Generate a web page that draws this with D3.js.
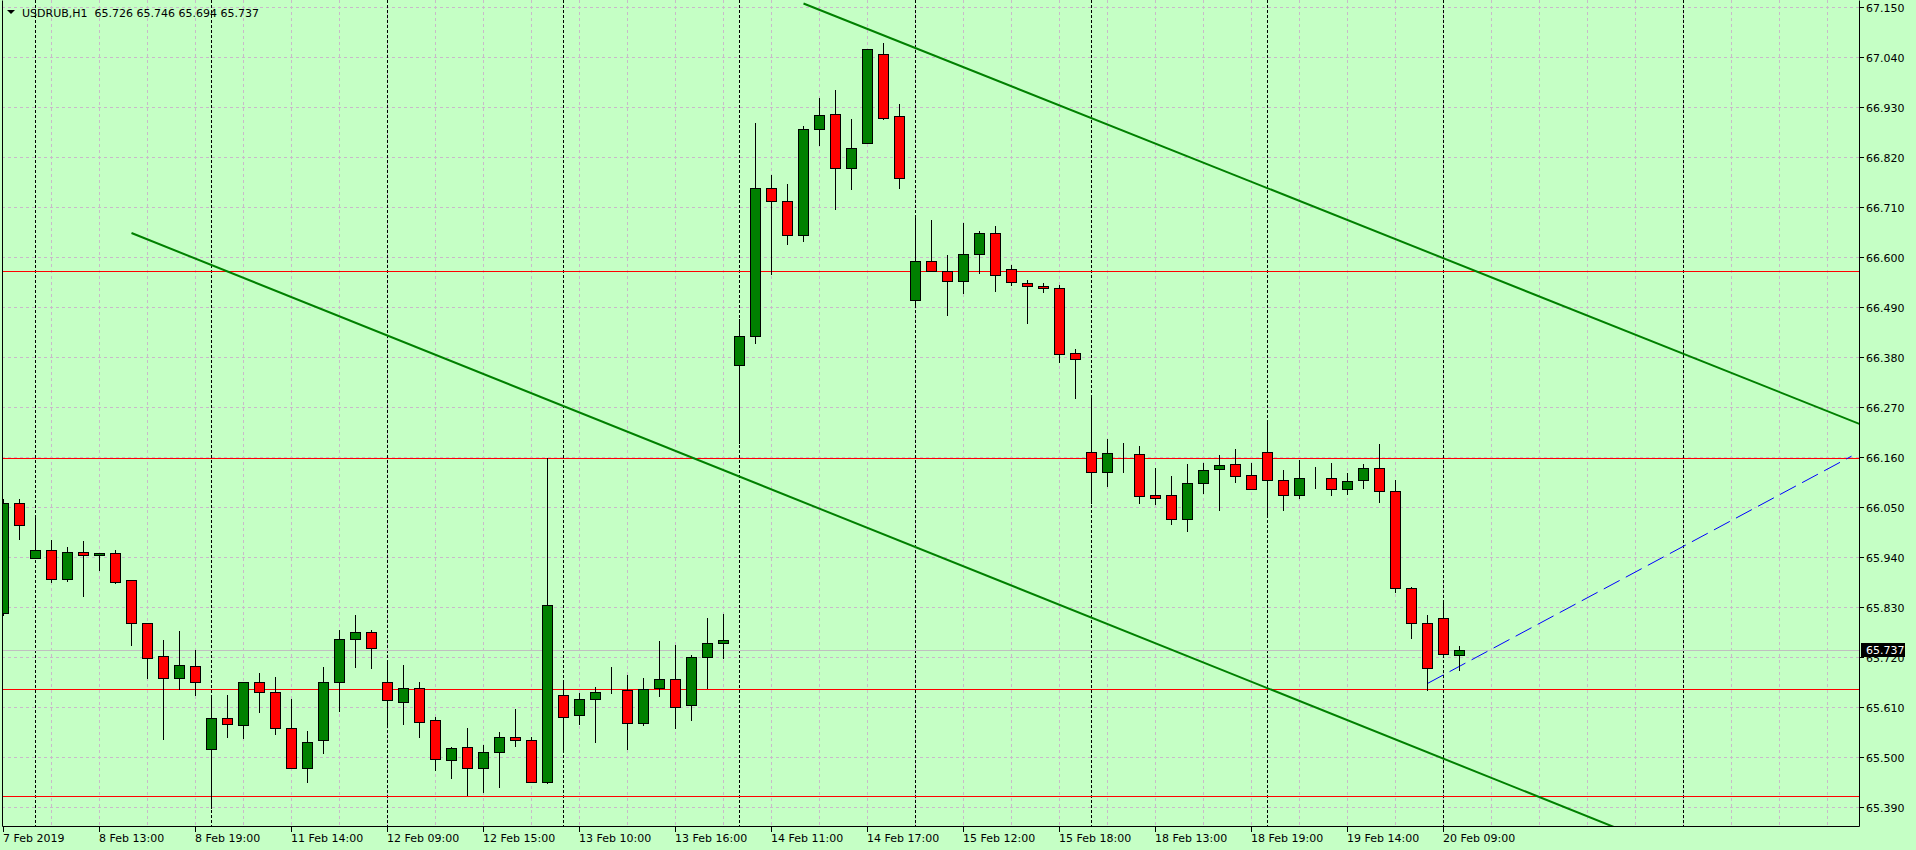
<!DOCTYPE html>
<html>
<head>
<meta charset="utf-8">
<script src="https://cdn.jsdelivr.net/npm/d3@7"></script>
<style>
  body { margin: 0; background: #c5ffc5; }
  svg { display: block; font-family: 'DejaVu Sans', sans-serif; font-size: 11px; }
</style>
</head>
<body>
<div id="chart"></div>
<script>
// header
const symbol = 'USDRUB,H1'
const lastQuote = ['65.726', '65.746', '65.694', '65.737']

// trading days shown, session 09:00 - 19:00
const days = ['7 Feb', '8 Feb', '11 Feb', '12 Feb', '13 Feb', '14 Feb', '15 Feb', '18 Feb', '19 Feb', '20 Feb']
const firstBarHour = 18
const lastBarHour = 10
const sessionOpen = 9
const sessionClose = 19

// OHLC, one value per hourly bar
const open = [
  65.820, 66.062, 65.941, 65.957, 65.894, 65.954, 65.946, 65.952, 65.891, 65.796,
  65.724, 65.677, 65.702, 65.519, 65.589, 65.572, 65.668, 65.646, 65.565, 65.477,
  65.539, 65.668, 65.761, 65.778, 65.668, 65.624, 65.653, 65.583, 65.495, 65.525,
  65.479, 65.514, 65.547, 65.539, 65.448, 65.638, 65.594, 65.629, 65.649, 65.649,
  65.578, 65.653, 65.673, 65.616, 65.723, 65.754, 66.364, 66.428, 66.755, 66.725,
  66.650, 66.883, 66.916, 66.799, 66.852, 67.048, 66.912, 66.507, 66.593, 66.571,
  66.549, 66.608, 66.654, 66.575, 66.545, 66.538, 66.534, 66.390, 66.174, 66.130,
  66.170, 66.168, 66.078, 66.078, 66.025, 66.106, 66.135, 66.146, 66.122, 66.174,
  66.111, 66.078, 66.119, 66.117, 66.091, 66.111, 66.139, 66.087, 65.873, 65.798,
  65.809, 65.726
]
const high = [
  66.069, 66.069, 66.032, 65.979, 65.964, 65.977, 65.950, 65.957, 65.891, 65.796,
  65.759, 65.779, 65.737, 65.631, 65.638, 65.668, 65.686, 65.678, 65.630, 65.559,
  65.700, 65.781, 65.814, 65.781, 65.710, 65.704, 65.668, 65.590, 65.525, 65.565,
  65.528, 65.558, 65.608, 65.547, 66.161, 65.671, 65.644, 65.657, 65.701, 65.682,
  65.677, 65.757, 65.748, 65.726, 65.807, 65.816, 66.465, 66.896, 66.782, 66.762,
  66.890, 66.953, 66.969, 66.905, 67.059, 67.074, 66.938, 66.687, 66.683, 66.606,
  66.676, 66.659, 66.670, 66.585, 66.552, 66.544, 66.540, 66.400, 66.296, 66.202,
  66.192, 66.186, 66.138, 66.120, 66.146, 66.148, 66.166, 66.179, 66.150, 66.243,
  66.133, 66.156, 66.141, 66.148, 66.126, 66.146, 66.190, 66.111, 65.877, 65.814,
  65.844, 65.746
]
const low = [
  65.815, 65.982, 65.940, 65.887, 65.890, 65.857, 65.913, 65.886, 65.748, 65.677,
  65.542, 65.652, 65.639, 65.389, 65.547, 65.545, 65.602, 65.552, 65.477, 65.448,
  65.512, 65.603, 65.701, 65.699, 65.572, 65.574, 65.547, 65.474, 65.456, 65.419,
  65.426, 65.437, 65.527, 65.447, 65.445, 65.517, 65.574, 65.536, 65.642, 65.520,
  65.572, 65.637, 65.567, 65.584, 65.655, 65.721, 66.192, 66.414, 66.564, 66.630,
  66.637, 66.849, 66.707, 66.751, 66.852, 66.905, 66.755, 66.498, 66.571, 66.474,
  66.524, 66.568, 66.527, 66.540, 66.458, 66.525, 66.372, 66.293, 66.062, 66.099,
  66.130, 66.062, 66.059, 66.015, 66.000, 66.084, 66.046, 66.108, 66.091, 66.031,
  66.046, 66.071, 66.093, 66.078, 66.080, 66.093, 66.064, 65.866, 65.764, 65.649,
  65.726, 65.694
]
const close = [
  66.060, 66.012, 65.957, 65.894, 65.954, 65.947, 65.950, 65.888, 65.796, 65.721,
  65.677, 65.704, 65.668, 65.589, 65.574, 65.668, 65.646, 65.565, 65.477, 65.536,
  65.668, 65.761, 65.778, 65.741, 65.627, 65.653, 65.580, 65.497, 65.523, 65.479,
  65.514, 65.547, 65.539, 65.448, 65.836, 65.591, 65.629, 65.646, 65.649, 65.578,
  65.651, 65.673, 65.613, 65.723, 65.754, 65.759, 66.428, 66.755, 66.725, 66.650,
  66.883, 66.914, 66.799, 66.843, 67.059, 66.909, 66.777, 66.593, 66.571, 66.549,
  66.608, 66.654, 66.562, 66.548, 66.538, 66.533, 66.388, 66.377, 66.130, 66.170,
  66.170, 66.076, 66.073, 66.025, 66.104, 66.133, 66.144, 66.120, 66.091, 66.111,
  66.078, 66.117, 66.119, 66.091, 66.109, 66.139, 66.087, 65.873, 65.796, 65.697,
  65.728, 65.737
]

// price axis labels
const priceTicks = [67.15, 67.04, 66.93, 66.82, 66.71, 66.60, 66.49, 66.38, 66.27,
  66.16, 66.05, 65.94, 65.83, 65.72, 65.61, 65.50, 65.39]

// drawn objects: [bar, price]
const levels = [66.571, 66.161, 65.651, 65.416]
const channelTop = [[50, 67.16], [116, 66.235]]
const channelBottom = [[8, 66.655], [85, 65.569]]
const blueLine = [[89, 65.664], [115.5, 66.164]]

const width = 1916
const height = 850
const plot = { left: 2, top: 0, right: 1859, bottom: 826 }
const bg = '#c5ffc5'

const svg = d3
  .select('#chart')
  .append('svg')
  .attr('width', width)
  .attr('height', height)

svg.append('rect').attr('width', width).attr('height', height).attr('fill', bg)

svg
  .append('clipPath')
  .attr('id', 'plot-clip')
  .append('rect')
  .attr('x', plot.left)
  .attr('y', plot.top)
  .attr('width', plot.right - plot.left)
  .attr('height', plot.bottom - plot.top)

// bar times
const times = []
days.forEach((day, i) => {
  const from = i === 0 ? firstBarHour : sessionOpen
  const to = i === days.length - 1 ? lastBarHour : sessionClose
  for (let h = from; h <= to; h++) {
    times.push({ day: day, hour: h, newDay: h === from })
  }
})

const candles = times.map((t, i) => ({
  i: i,
  o: open[i],
  h: high[i],
  l: low[i],
  c: close[i]
}))

// scales
const x = d3.scaleLinear().domain([0, 1]).range([3.5, 19.5])
const y = d3.scaleLinear().domain([65.39, 67.15]).range([808, 8])
const lastBar = (plot.right - x(0)) / (x(1) - x(0))
const py = v => Math.round(y(v)) + 0.5

const g = svg.append('g').attr('clip-path', 'url(#plot-clip)')

// grid
g.selectAll('.hgrid')
  .data(priceTicks)
  .enter()
  .append('line')
  .attr('class', 'hgrid')
  .attr('x1', plot.left)
  .attr('x2', plot.right)
  .attr('y1', d => py(d) - 1)
  .attr('y2', d => py(d) - 1)
  .attr('stroke', '#c9b9c9')
  .attr('stroke-dasharray', '3,3')

const vgrid = d3.range(3, Math.floor(lastBar) + 1, 3)
g.selectAll('.vgrid')
  .data(vgrid)
  .enter()
  .append('line')
  .attr('class', 'vgrid')
  .attr('x1', d => x(d))
  .attr('x2', d => x(d))
  .attr('y1', plot.top)
  .attr('y2', plot.bottom)
  .attr('stroke', '#c9b9c9')
  .attr('stroke-dasharray', '3,3')

// day separators (future one at midnight after the last bar)
const separators = times.map((t, i) => (t.newDay && i > 0 ? i : null)).filter(d => d !== null)
separators.push(times.length - 1 + (24 - lastBarHour))
g.selectAll('.sep')
  .data(separators)
  .enter()
  .append('line')
  .attr('class', 'sep')
  .attr('x1', d => x(d))
  .attr('x2', d => x(d))
  .attr('y1', plot.top)
  .attr('y2', plot.bottom)
  .attr('stroke', '#000')
  .attr('stroke-dasharray', '3,2')

// current price line
g.append('line')
  .attr('x1', plot.left)
  .attr('x2', plot.right)
  .attr('y1', py(close[close.length - 1]))
  .attr('y2', py(close[close.length - 1]))
  .attr('stroke', '#c0c0c0')

// horizontal levels
g.selectAll('.level')
  .data(levels)
  .enter()
  .append('line')
  .attr('class', 'level')
  .attr('x1', plot.left)
  .attr('x2', plot.right)
  .attr('y1', d => py(d))
  .attr('y2', d => py(d))
  .attr('stroke', '#ff0000')

// trend lines as rays
function ray(points, toBar) {
  const [[b0, p0], [b1, p1]] = points
  const k = (p1 - p0) / (b1 - b0)
  return [[b0, p0], [toBar, p0 + k * (toBar - b0)]]
}

const line = d3
  .line()
  .x(d => x(d[0]))
  .y(d => y(d[1]))

g.selectAll('.trend')
  .data([ray(channelTop, 130), ray(channelBottom, 130)])
  .enter()
  .append('path')
  .attr('class', 'trend')
  .attr('d', line)
  .attr('fill', 'none')
  .attr('stroke', '#008000')
  .attr('stroke-width', 2)

g.append('path')
  .attr('d', line(blueLine))
  .attr('fill', 'none')
  .attr('stroke', '#0000ff')
  .attr('stroke-dasharray', '18,7')

// candles
const bars = g
  .selectAll('.candle')
  .data(candles)
  .enter()
  .append('g')
  .attr('class', 'candle')

bars
  .append('rect')
  .attr('x', d => x(d.i) - 0.5)
  .attr('width', 1)
  .attr('y', d => Math.round(y(d.h)))
  .attr('height', d => Math.round(y(d.l)) - Math.round(y(d.h)) + 1)
  .attr('fill', '#000')

bars
  .append('rect')
  .attr('x', d => x(d.i) - 5)
  .attr('width', 10)
  .attr('y', d => py(Math.max(d.o, d.c)))
  .attr('height', d => py(Math.min(d.o, d.c)) - py(Math.max(d.o, d.c)))
  .attr('fill', d => (d.c >= d.o ? '#008000' : '#ff0000'))
  .attr('stroke', '#000')
  .attr('shape-rendering', 'crispEdges')

// frame
svg
  .append('path')
  .attr('d', `M${plot.left + 0.5},${plot.top + 0.5}V${plot.bottom + 0.5}H${plot.right + 0.5}V${plot.top + 0.5}`)
  .attr('fill', 'none')
  .attr('stroke', '#000')

// price axis
const yAxis = svg.append('g')
yAxis
  .selectAll('.ptick')
  .data(priceTicks)
  .enter()
  .append('line')
  .attr('class', 'ptick')
  .attr('x1', plot.right + 1)
  .attr('x2', plot.right + 5)
  .attr('y1', d => py(d) - 1)
  .attr('y2', d => py(d) - 1)
  .attr('stroke', '#000')

yAxis
  .selectAll('.plabel')
  .data(priceTicks)
  .enter()
  .append('text')
  .attr('class', 'plabel')
  .attr('x', plot.right + 7)
  .attr('y', d => y(d) + 4)
  .text(d => d.toFixed(3))

const last = close[close.length - 1]
yAxis
  .append('rect')
  .attr('x', plot.right + 2)
  .attr('y', Math.round(y(last)) - 7)
  .attr('width', 44)
  .attr('height', 14)
  .attr('fill', '#000')
yAxis
  .append('text')
  .attr('x', plot.right + 7)
  .attr('y', y(last) + 4)
  .attr('fill', '#fff')
  .text(last.toFixed(3))

// time axis
const timeTicks = d3.range(0, times.length, 6)
const xAxis = svg.append('g')
xAxis
  .selectAll('.ttick')
  .data(timeTicks)
  .enter()
  .append('line')
  .attr('class', 'ttick')
  .attr('x1', d => x(d))
  .attr('x2', d => x(d))
  .attr('y1', plot.bottom + 1)
  .attr('y2', plot.bottom + 6)
  .attr('stroke', '#000')

xAxis
  .selectAll('.tlabel')
  .data(timeTicks)
  .enter()
  .append('text')
  .attr('class', 'tlabel')
  .attr('x', d => x(d) - 0.5)
  .attr('y', 842)
  .text(d => {
    const t = times[d]
    if (d === 0) return t.day + ' 2019'
    return t.day + ' ' + String(t.hour).padStart(2, '0') + ':00'
  })

// header
svg.append('path').attr('d', 'M7,10L15,10L11,14Z').attr('fill', '#000')
svg
  .append('text')
  .attr('x', 22)
  .attr('y', 17)
  .attr('xml:space', 'preserve')
  .style('white-space', 'pre')
  .text(symbol + '  ' + lastQuote.join(' '))
</script>
</body>
</html>
